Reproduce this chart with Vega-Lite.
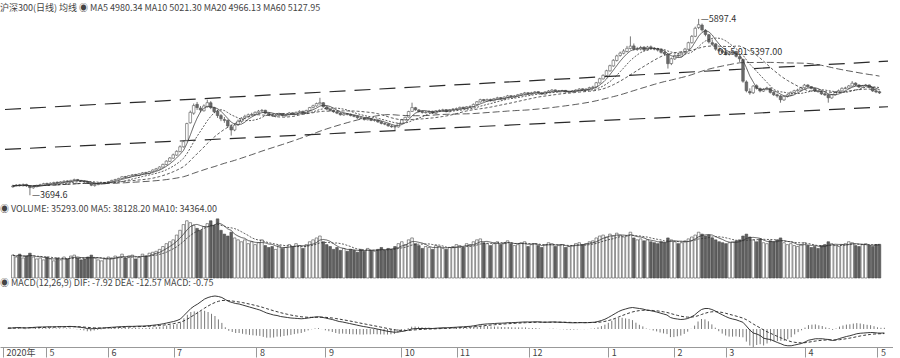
{
"$schema":"https://vega.github.io/schema/vega-lite/v6.json",
"padding":{"top":3,"left":0,"right":0,"bottom":0},
"background":"#ffffff",
"config":{"view":{"stroke":null},"concat":{"spacing":0},"font":"Noto Sans CJK SC",
"title":{"font":"Noto Sans CJK SC","fontSize":9,"fontWeight":"normal","color":"#444","anchor":"start","offset":2},
"axis":{"domainColor":"#999","tickColor":"#999","labelColor":"#444","labelFont":"Noto Sans CJK SC","labelFontSize":9,"gridColor":"#9a9a9a","gridDash":[1,3],"gridWidth":0.8}},
"datasets":{
"chan":[{"line":"upper","d":-2.3,"p":4766},{"line":"upper","d":256.5,"p":5369},{"line":"lower","d":-2.3,"p":4267},{"line":"lower","d":256.5,"p":4800}],
"ann":[{"d":5,"p":3694.6,"label":"—3694.6"},{"d":201,"p":5897.4,"label":"—5897.4"},{"d":206,"p":5484,"label":"01.5.01 5397.00"}],
"k":[
{"d":0,"o":3800,"h":3826,"l":3790,"c":3810,"v":24000,"dif":2,"dea":1.6,"macd":0.8},
{"d":1,"o":3812,"h":3834,"l":3805,"c":3822,"v":22000,"dif":2,"dea":1.7,"macd":0.6},
{"d":2,"o":3826,"h":3836,"l":3806,"c":3815,"v":25000,"dif":2.5,"dea":1.9,"macd":1.2},
{"d":3,"o":3812,"h":3842,"l":3808,"c":3829,"v":21000,"dif":3,"dea":2.1,"macd":1.8},
{"d":4,"o":3830,"h":3838,"l":3800,"c":3812,"v":23000,"dif":2.5,"dea":2.2,"macd":0.6},
{"d":5,"o":3808,"h":3815,"l":3694.6,"c":3790,"v":26000,"dif":2,"dea":2.2,"macd":-0.4},
{"d":6,"o":3788,"h":3815,"l":3776,"c":3804,"v":22000,"dif":2.5,"dea":2.3,"macd":0.4},
{"d":7,"o":3802,"h":3826,"l":3795,"c":3818,"v":20000,"dif":3,"dea":2.4,"macd":1.2},
{"d":8,"o":3820,"h":3838,"l":3812,"c":3826,"v":21000,"dif":3.5,"dea":2.6,"macd":1.8},
{"d":9,"o":3824,"h":3850,"l":3818,"c":3840,"v":19000,"dif":4,"dea":2.9,"macd":2.2},
{"d":10,"o":3842,"h":3852,"l":3825,"c":3833,"v":22000,"dif":4,"dea":3.1,"macd":1.8},
{"d":11,"o":3830,"h":3855,"l":3826,"c":3845,"v":20000,"dif":4.2,"dea":3.3,"macd":1.8},
{"d":12,"o":3846,"h":3864,"l":3838,"c":3853,"v":18000,"dif":4.5,"dea":3.5,"macd":2},
{"d":13,"o":3858,"h":3866,"l":3840,"c":3848,"v":21000,"dif":4.3,"dea":3.7,"macd":1.2},
{"d":14,"o":3846,"h":3870,"l":3840,"c":3862,"v":19000,"dif":4.5,"dea":3.9,"macd":1.2},
{"d":15,"o":3860,"h":3882,"l":3852,"c":3870,"v":22000,"dif":4.8,"dea":4.1,"macd":1.4},
{"d":16,"o":3874,"h":3880,"l":3856,"c":3866,"v":20000,"dif":4.6,"dea":4.2,"macd":0.8},
{"d":17,"o":3862,"h":3888,"l":3858,"c":3880,"v":23000,"dif":4.9,"dea":4.3,"macd":1.2},
{"d":18,"o":3878,"h":3902,"l":3872,"c":3890,"v":24000,"dif":5.2,"dea":4.5,"macd":1.4},
{"d":19,"o":3892,"h":3898,"l":3870,"c":3878,"v":21000,"dif":4.8,"dea":4.6,"macd":0.4},
{"d":20,"o":3880,"h":3886,"l":3860,"c":3870,"v":19000,"dif":4.2,"dea":4.5,"macd":-0.6},
{"d":21,"o":3872,"h":3878,"l":3852,"c":3862,"v":20000,"dif":3.5,"dea":4.3,"macd":-1.6},
{"d":22,"o":3864,"h":3868,"l":3836,"c":3845,"v":22000,"dif":2.5,"dea":3.9,"macd":-2.8},
{"d":23,"o":3846,"h":3850,"l":3808,"c":3820,"v":24000,"dif":1,"dea":3.3,"macd":-4.6},
{"d":24,"o":3816,"h":3836,"l":3802,"c":3829,"v":21000,"dif":0.5,"dea":2.7,"macd":-4.4},
{"d":25,"o":3828,"h":3848,"l":3820,"c":3840,"v":19000,"dif":0.8,"dea":2.3,"macd":-3},
{"d":26,"o":3840,"h":3856,"l":3832,"c":3848,"v":18000,"dif":1.2,"dea":2.1,"macd":-1.8},
{"d":27,"o":3846,"h":3862,"l":3840,"c":3853,"v":20000,"dif":1.6,"dea":2,"macd":-0.8},
{"d":28,"o":3850,"h":3872,"l":3845,"c":3866,"v":22000,"dif":2.2,"dea":2,"macd":0.4},
{"d":29,"o":3864,"h":3888,"l":3858,"c":3880,"v":21000,"dif":2.8,"dea":2.2,"macd":1.2},
{"d":30,"o":3882,"h":3900,"l":3875,"c":3890,"v":23000,"dif":3.4,"dea":2.4,"macd":2},
{"d":31,"o":3888,"h":3912,"l":3882,"c":3905,"v":22000,"dif":3.8,"dea":2.7,"macd":2.2},
{"d":32,"o":3904,"h":3932,"l":3898,"c":3926,"v":25000,"dif":4.5,"dea":3.1,"macd":2.8},
{"d":33,"o":3928,"h":3936,"l":3910,"c":3918,"v":21000,"dif":4.6,"dea":3.4,"macd":2.4},
{"d":34,"o":3916,"h":3946,"l":3910,"c":3940,"v":23000,"dif":5,"dea":3.7,"macd":2.6},
{"d":35,"o":3940,"h":3960,"l":3932,"c":3950,"v":24000,"dif":5.3,"dea":4,"macd":2.6},
{"d":36,"o":3954,"h":3962,"l":3936,"c":3944,"v":20000,"dif":5.2,"dea":4.2,"macd":2},
{"d":37,"o":3942,"h":3970,"l":3938,"c":3962,"v":22000,"dif":5.5,"dea":4.5,"macd":2},
{"d":38,"o":3960,"h":3984,"l":3952,"c":3975,"v":25000,"dif":5.9,"dea":4.8,"macd":2.2},
{"d":39,"o":3978,"h":3988,"l":3958,"c":3968,"v":23000,"dif":5.8,"dea":5,"macd":1.6},
{"d":40,"o":3966,"h":3998,"l":3960,"c":3990,"v":26000,"dif":6.2,"dea":5.2,"macd":2},
{"d":41,"o":3988,"h":4018,"l":3982,"c":4010,"v":27000,"dif":6.8,"dea":5.5,"macd":2.6},
{"d":42,"o":4008,"h":4036,"l":4000,"c":4025,"v":28000,"dif":7.5,"dea":5.9,"macd":3.2},
{"d":43,"o":4022,"h":4056,"l":4018,"c":4048,"v":30000,"dif":8.3,"dea":6.4,"macd":3.8},
{"d":44,"o":4046,"h":4090,"l":4040,"c":4080,"v":33000,"dif":9.2,"dea":7,"macd":4.4},
{"d":45,"o":4078,"h":4130,"l":4070,"c":4121,"v":36000,"dif":10.5,"dea":7.7,"macd":5.6},
{"d":46,"o":4118,"h":4172,"l":4110,"c":4160,"v":38000,"dif":12,"dea":8.6,"macd":6.8},
{"d":47,"o":4158,"h":4215,"l":4150,"c":4200,"v":40000,"dif":13.5,"dea":9.6,"macd":7.8},
{"d":48,"o":4196,"h":4256,"l":4188,"c":4243,"v":45000,"dif":15,"dea":10.7,"macd":8.6},
{"d":49,"o":4240,"h":4318,"l":4232,"c":4300,"v":50000,"dif":17,"dea":12,"macd":10},
{"d":50,"o":4300,"h":4380,"l":4290,"c":4364,"v":56000,"dif":20,"dea":13.6,"macd":12.8},
{"d":51,"o":4380,"h":4600,"l":4372,"c":4590,"v":60000,"dif":27,"dea":16.3,"macd":21.4},
{"d":52,"o":4600,"h":4752,"l":4590,"c":4730,"v":58000,"dif":34,"dea":19.8,"macd":28.4},
{"d":53,"o":4720,"h":4840,"l":4700,"c":4815,"v":55000,"dif":41,"dea":24,"macd":34},
{"d":54,"o":4830,"h":4860,"l":4760,"c":4790,"v":52000,"dif":46,"dea":28.4,"macd":35.2},
{"d":55,"o":4784,"h":4810,"l":4730,"c":4760,"v":50000,"dif":50,"dea":32.7,"macd":34.6},
{"d":56,"o":4750,"h":4830,"l":4740,"c":4810,"v":54000,"dif":55,"dea":37.2,"macd":35.6},
{"d":57,"o":4800,"h":4888,"l":4790,"c":4851,"v":57000,"dif":60,"dea":41.8,"macd":36.4},
{"d":58,"o":4850,"h":4870,"l":4770,"c":4790,"v":60000,"dif":63,"dea":46,"macd":34},
{"d":59,"o":4788,"h":4800,"l":4720,"c":4740,"v":55000,"dif":65,"dea":49.8,"macd":30.4},
{"d":60,"o":4745,"h":4760,"l":4660,"c":4690,"v":62000,"dif":66,"dea":53,"macd":26},
{"d":61,"o":4690,"h":4710,"l":4620,"c":4650,"v":50000,"dif":65,"dea":55.4,"macd":19.2},
{"d":62,"o":4640,"h":4672,"l":4600,"c":4630,"v":46000,"dif":63,"dea":56.9,"macd":12.2},
{"d":63,"o":4630,"h":4640,"l":4540,"c":4560,"v":44000,"dif":59,"dea":57.3,"macd":3.4},
{"d":64,"o":4550,"h":4580,"l":4440,"c":4510,"v":48000,"dif":55,"dea":56.8,"macd":-3.6},
{"d":65,"o":4510,"h":4590,"l":4495,"c":4570,"v":42000,"dif":53,"dea":56,"macd":-6},
{"d":66,"o":4575,"h":4640,"l":4560,"c":4620,"v":40000,"dif":51,"dea":55,"macd":-8},
{"d":67,"o":4615,"h":4670,"l":4600,"c":4656,"v":38000,"dif":50,"dea":54,"macd":-8},
{"d":68,"o":4660,"h":4700,"l":4645,"c":4680,"v":40000,"dif":48,"dea":52.8,"macd":-9.6},
{"d":69,"o":4676,"h":4715,"l":4665,"c":4700,"v":36000,"dif":46,"dea":51.4,"macd":-10.8},
{"d":70,"o":4700,"h":4725,"l":4685,"c":4705,"v":38000,"dif":44,"dea":49.9,"macd":-11.8},
{"d":71,"o":4706,"h":4742,"l":4695,"c":4730,"v":35000,"dif":42,"dea":48.3,"macd":-12.6},
{"d":72,"o":4726,"h":4760,"l":4715,"c":4745,"v":37000,"dif":40,"dea":46.6,"macd":-13.2},
{"d":73,"o":4748,"h":4772,"l":4735,"c":4754,"v":40000,"dif":38,"dea":44.9,"macd":-13.8},
{"d":74,"o":4756,"h":4762,"l":4708,"c":4720,"v":34000,"dif":35,"dea":42.9,"macd":-15.8},
{"d":75,"o":4718,"h":4728,"l":4688,"c":4700,"v":32000,"dif":32,"dea":40.7,"macd":-17.4},
{"d":76,"o":4702,"h":4712,"l":4675,"c":4690,"v":33000,"dif":30,"dea":38.6,"macd":-17.2},
{"d":77,"o":4685,"h":4708,"l":4668,"c":4693,"v":30000,"dif":28,"dea":36.5,"macd":-17},
{"d":78,"o":4692,"h":4726,"l":4684,"c":4715,"v":34000,"dif":27,"dea":34.6,"macd":-15.2},
{"d":79,"o":4716,"h":4722,"l":4680,"c":4690,"v":31000,"dif":25,"dea":32.7,"macd":-15.4},
{"d":80,"o":4688,"h":4712,"l":4676,"c":4700,"v":32000,"dif":24,"dea":31,"macd":-14},
{"d":81,"o":4700,"h":4735,"l":4692,"c":4722,"v":35000,"dif":23,"dea":29.4,"macd":-12.8},
{"d":82,"o":4724,"h":4730,"l":4695,"c":4705,"v":33000,"dif":22,"dea":27.9,"macd":-11.8},
{"d":83,"o":4702,"h":4740,"l":4696,"c":4730,"v":36000,"dif":21.5,"dea":26.6,"macd":-10.2},
{"d":84,"o":4730,"h":4756,"l":4722,"c":4742,"v":34000,"dif":21,"dea":25.5,"macd":-9},
{"d":85,"o":4744,"h":4750,"l":4708,"c":4720,"v":31000,"dif":20.5,"dea":24.5,"macd":-8},
{"d":86,"o":4718,"h":4762,"l":4712,"c":4754,"v":35000,"dif":21,"dea":23.8,"macd":-5.6},
{"d":87,"o":4752,"h":4798,"l":4745,"c":4790,"v":38000,"dif":22,"dea":23.4,"macd":-2.8},
{"d":88,"o":4790,"h":4826,"l":4780,"c":4812,"v":40000,"dif":23,"dea":23.3,"macd":-0.6},
{"d":89,"o":4810,"h":4852,"l":4802,"c":4840,"v":42000,"dif":24,"dea":23.4,"macd":1.2},
{"d":90,"o":4836,"h":4912,"l":4828,"c":4851,"v":44000,"dif":24.5,"dea":23.6,"macd":1.8},
{"d":91,"o":4850,"h":4858,"l":4790,"c":4800,"v":38000,"dif":23.5,"dea":23.6,"macd":-0.2},
{"d":92,"o":4798,"h":4810,"l":4756,"c":4770,"v":35000,"dif":22,"dea":23.3,"macd":-2.6},
{"d":93,"o":4772,"h":4780,"l":4740,"c":4754,"v":33000,"dif":20.5,"dea":22.7,"macd":-4.4},
{"d":94,"o":4756,"h":4765,"l":4725,"c":4738,"v":30000,"dif":19,"dea":22,"macd":-6},
{"d":95,"o":4736,"h":4748,"l":4708,"c":4720,"v":32000,"dif":17,"dea":21,"macd":-8},
{"d":96,"o":4722,"h":4730,"l":4690,"c":4700,"v":29000,"dif":15,"dea":19.8,"macd":-9.6},
{"d":97,"o":4698,"h":4726,"l":4688,"c":4712,"v":31000,"dif":14,"dea":18.6,"macd":-9.2},
{"d":98,"o":4714,"h":4722,"l":4692,"c":4705,"v":28000,"dif":12.5,"dea":17.4,"macd":-9.8},
{"d":99,"o":4706,"h":4716,"l":4680,"c":4690,"v":30000,"dif":11,"dea":16.1,"macd":-10.2},
{"d":100,"o":4692,"h":4700,"l":4668,"c":4680,"v":29000,"dif":9.5,"dea":14.8,"macd":-10.6},
{"d":101,"o":4682,"h":4690,"l":4650,"c":4662,"v":27000,"dif":8,"dea":13.4,"macd":-10.8},
{"d":102,"o":4660,"h":4675,"l":4642,"c":4656,"v":30000,"dif":6.5,"dea":12,"macd":-11},
{"d":103,"o":4658,"h":4662,"l":4628,"c":4640,"v":28000,"dif":5,"dea":10.6,"macd":-11.2},
{"d":104,"o":4638,"h":4664,"l":4630,"c":4652,"v":31000,"dif":4,"dea":9.3,"macd":-10.6},
{"d":105,"o":4654,"h":4660,"l":4620,"c":4630,"v":29000,"dif":2.5,"dea":7.9,"macd":-10.8},
{"d":106,"o":4628,"h":4648,"l":4615,"c":4632,"v":28000,"dif":1.5,"dea":6.6,"macd":-10.2},
{"d":107,"o":4634,"h":4640,"l":4600,"c":4610,"v":30000,"dif":0,"dea":5.3,"macd":-10.6},
{"d":108,"o":4612,"h":4620,"l":4580,"c":4592,"v":32000,"dif":-1.5,"dea":3.9,"macd":-10.8},
{"d":109,"o":4590,"h":4602,"l":4570,"c":4583,"v":29000,"dif":-3,"dea":2.5,"macd":-11},
{"d":110,"o":4584,"h":4590,"l":4550,"c":4562,"v":31000,"dif":-4.5,"dea":1.1,"macd":-11.2},
{"d":111,"o":4560,"h":4572,"l":4538,"c":4550,"v":30000,"dif":-5.5,"dea":-0.2,"macd":-10.6},
{"d":112,"o":4552,"h":4566,"l":4505,"c":4547,"v":33000,"dif":-6.5,"dea":-1.5,"macd":-10},
{"d":113,"o":4548,"h":4598,"l":4540,"c":4590,"v":36000,"dif":-6,"dea":-2.4,"macd":-7.2},
{"d":114,"o":4592,"h":4648,"l":4585,"c":4640,"v":38000,"dif":-5,"dea":-2.9,"macd":-4.2},
{"d":115,"o":4638,"h":4676,"l":4630,"c":4668,"v":35000,"dif":-4,"dea":-3.1,"macd":-1.8},
{"d":116,"o":4670,"h":4750,"l":4665,"c":4740,"v":40000,"dif":-2,"dea":-2.9,"macd":1.8},
{"d":117,"o":4742,"h":4851,"l":4735,"c":4790,"v":42000,"dif":0,"dea":-2.3,"macd":4.6},
{"d":118,"o":4788,"h":4798,"l":4750,"c":4762,"v":36000,"dif":0.8,"dea":-1.7,"macd":5},
{"d":119,"o":4760,"h":4770,"l":4728,"c":4740,"v":34000,"dif":1,"dea":-1.2,"macd":4.4},
{"d":120,"o":4742,"h":4752,"l":4715,"c":4729,"v":31000,"dif":1,"dea":-0.8,"macd":3.6},
{"d":121,"o":4726,"h":4745,"l":4716,"c":4732,"v":33000,"dif":1,"dea":-0.4,"macd":2.8},
{"d":122,"o":4730,"h":4756,"l":4722,"c":4742,"v":32000,"dif":1.2,"dea":-0.1,"macd":2.6},
{"d":123,"o":4744,"h":4750,"l":4710,"c":4720,"v":30000,"dif":1,"dea":0.1,"macd":1.8},
{"d":124,"o":4718,"h":4758,"l":4712,"c":4750,"v":34000,"dif":1.5,"dea":0.4,"macd":2.2},
{"d":125,"o":4748,"h":4768,"l":4738,"c":4754,"v":33000,"dif":2,"dea":0.7,"macd":2.6},
{"d":126,"o":4752,"h":4775,"l":4742,"c":4762,"v":31000,"dif":2.5,"dea":1.1,"macd":2.8},
{"d":127,"o":4764,"h":4770,"l":4730,"c":4740,"v":30000,"dif":2.4,"dea":1.4,"macd":2},
{"d":128,"o":4738,"h":4772,"l":4732,"c":4765,"v":32000,"dif":2.8,"dea":1.7,"macd":2.2},
{"d":129,"o":4766,"h":4784,"l":4755,"c":4770,"v":33000,"dif":3.2,"dea":2,"macd":2.4},
{"d":130,"o":4768,"h":4790,"l":4760,"c":4778,"v":35000,"dif":3.6,"dea":2.3,"macd":2.6},
{"d":131,"o":4776,"h":4802,"l":4768,"c":4792,"v":34000,"dif":4.2,"dea":2.7,"macd":3},
{"d":132,"o":4794,"h":4800,"l":4770,"c":4780,"v":32000,"dif":4.4,"dea":3,"macd":2.8},
{"d":133,"o":4778,"h":4808,"l":4772,"c":4800,"v":36000,"dif":5,"dea":3.4,"macd":3.2},
{"d":134,"o":4800,"h":4818,"l":4788,"c":4802,"v":35000,"dif":5.4,"dea":3.8,"macd":3.2},
{"d":135,"o":4800,"h":4840,"l":4795,"c":4830,"v":38000,"dif":6.4,"dea":4.3,"macd":4.2},
{"d":136,"o":4828,"h":4870,"l":4822,"c":4862,"v":40000,"dif":7.6,"dea":5,"macd":5.2},
{"d":137,"o":4860,"h":4900,"l":4852,"c":4888,"v":41000,"dif":9,"dea":5.8,"macd":6.4},
{"d":138,"o":4890,"h":4898,"l":4862,"c":4875,"v":37000,"dif":9.6,"dea":6.6,"macd":6},
{"d":139,"o":4872,"h":4902,"l":4866,"c":4890,"v":36000,"dif":10.2,"dea":7.3,"macd":5.8},
{"d":140,"o":4892,"h":4900,"l":4865,"c":4876,"v":34000,"dif":10.4,"dea":7.9,"macd":5},
{"d":141,"o":4874,"h":4910,"l":4868,"c":4900,"v":36000,"dif":11,"dea":8.5,"macd":5},
{"d":142,"o":4900,"h":4925,"l":4890,"c":4912,"v":38000,"dif":11.5,"dea":9.1,"macd":4.8},
{"d":143,"o":4914,"h":4922,"l":4888,"c":4900,"v":35000,"dif":11.6,"dea":9.6,"macd":4},
{"d":144,"o":4898,"h":4930,"l":4892,"c":4920,"v":37000,"dif":12,"dea":10.1,"macd":3.8},
{"d":145,"o":4918,"h":4948,"l":4910,"c":4936,"v":39000,"dif":12.6,"dea":10.6,"macd":4},
{"d":146,"o":4938,"h":4945,"l":4915,"c":4925,"v":36000,"dif":12.7,"dea":11,"macd":3.4},
{"d":147,"o":4922,"h":4946,"l":4914,"c":4936,"v":34000,"dif":13,"dea":11.4,"macd":3.2},
{"d":148,"o":4934,"h":4960,"l":4928,"c":4950,"v":35000,"dif":13.4,"dea":11.8,"macd":3.2},
{"d":149,"o":4948,"h":4972,"l":4940,"c":4962,"v":37000,"dif":13.8,"dea":12.2,"macd":3.2},
{"d":150,"o":4960,"h":4985,"l":4952,"c":4973,"v":38000,"dif":14.2,"dea":12.6,"macd":3.2},
{"d":151,"o":4975,"h":4982,"l":4948,"c":4960,"v":33000,"dif":14,"dea":12.9,"macd":2.2},
{"d":152,"o":4958,"h":4986,"l":4950,"c":4975,"v":35000,"dif":14.2,"dea":13.2,"macd":2},
{"d":153,"o":4974,"h":4996,"l":4965,"c":4985,"v":36000,"dif":14.4,"dea":13.4,"macd":2},
{"d":154,"o":4988,"h":4994,"l":4962,"c":4973,"v":34000,"dif":14.2,"dea":13.6,"macd":1.2},
{"d":155,"o":4972,"h":4980,"l":4948,"c":4960,"v":32000,"dif":13.6,"dea":13.6,"macd":0},
{"d":156,"o":4958,"h":4992,"l":4952,"c":4985,"v":35000,"dif":13.6,"dea":13.6,"macd":0},
{"d":157,"o":4984,"h":5008,"l":4975,"c":4997,"v":37000,"dif":13.8,"dea":13.6,"macd":0.4},
{"d":158,"o":4996,"h":5020,"l":4988,"c":5009,"v":36000,"dif":14.1,"dea":13.7,"macd":0.8},
{"d":159,"o":5010,"h":5016,"l":4985,"c":4995,"v":33000,"dif":13.8,"dea":13.7,"macd":0.2},
{"d":160,"o":4992,"h":5008,"l":4980,"c":4997,"v":34000,"dif":13.5,"dea":13.7,"macd":-0.4},
{"d":161,"o":4996,"h":5012,"l":4986,"c":5002,"v":35000,"dif":13.3,"dea":13.6,"macd":-0.6},
{"d":162,"o":5004,"h":5010,"l":4975,"c":4985,"v":32000,"dif":12.8,"dea":13.4,"macd":-1.2},
{"d":163,"o":4982,"h":4998,"l":4970,"c":4988,"v":33000,"dif":12.5,"dea":13.2,"macd":-1.4},
{"d":164,"o":4986,"h":5006,"l":4976,"c":4997,"v":34000,"dif":12.4,"dea":13,"macd":-1.2},
{"d":165,"o":4996,"h":5018,"l":4988,"c":5009,"v":36000,"dif":12.5,"dea":12.9,"macd":-0.8},
{"d":166,"o":5008,"h":5032,"l":5000,"c":5021,"v":37000,"dif":12.8,"dea":12.9,"macd":-0.2},
{"d":167,"o":5024,"h":5030,"l":5000,"c":5010,"v":35000,"dif":12.6,"dea":12.8,"macd":-0.4},
{"d":168,"o":5008,"h":5030,"l":5000,"c":5021,"v":36000,"dif":12.7,"dea":12.8,"macd":-0.2},
{"d":169,"o":5020,"h":5050,"l":5012,"c":5040,"v":38000,"dif":13.2,"dea":12.9,"macd":0.6},
{"d":170,"o":5040,"h":5062,"l":5030,"c":5046,"v":39000,"dif":13.6,"dea":13,"macd":1.2},
{"d":171,"o":5048,"h":5110,"l":5040,"c":5100,"v":42000,"dif":15,"dea":13.4,"macd":3.2},
{"d":172,"o":5098,"h":5162,"l":5090,"c":5150,"v":44000,"dif":17,"dea":14.1,"macd":5.8},
{"d":173,"o":5148,"h":5205,"l":5140,"c":5192,"v":45000,"dif":19.5,"dea":15.2,"macd":8.6},
{"d":174,"o":5190,"h":5262,"l":5182,"c":5250,"v":43000,"dif":23,"dea":16.8,"macd":12.4},
{"d":175,"o":5248,"h":5325,"l":5240,"c":5313,"v":46000,"dif":27,"dea":18.8,"macd":16.4},
{"d":176,"o":5310,"h":5395,"l":5300,"c":5380,"v":44000,"dif":31,"dea":21.2,"macd":19.6},
{"d":177,"o":5378,"h":5450,"l":5365,"c":5435,"v":47000,"dif":35,"dea":24,"macd":22},
{"d":178,"o":5440,"h":5488,"l":5425,"c":5470,"v":45000,"dif":38,"dea":26.8,"macd":22.4},
{"d":179,"o":5468,"h":5520,"l":5455,"c":5496,"v":43000,"dif":40,"dea":29.4,"macd":21.2},
{"d":180,"o":5490,"h":5560,"l":5480,"c":5530,"v":44000,"dif":42,"dea":31.9,"macd":20.2},
{"d":181,"o":5528,"h":5679,"l":5515,"c":5557,"v":48000,"dif":43,"dea":34.1,"macd":17.8},
{"d":182,"o":5560,"h":5590,"l":5500,"c":5520,"v":42000,"dif":42,"dea":35.7,"macd":12.6},
{"d":183,"o":5516,"h":5548,"l":5498,"c":5522,"v":40000,"dif":41,"dea":36.8,"macd":8.4},
{"d":184,"o":5520,"h":5560,"l":5505,"c":5540,"v":41000,"dif":40,"dea":37.4,"macd":5.2},
{"d":185,"o":5545,"h":5555,"l":5490,"c":5510,"v":39000,"dif":38,"dea":37.5,"macd":1},
{"d":186,"o":5508,"h":5560,"l":5500,"c":5545,"v":40000,"dif":37,"dea":37.4,"macd":-0.8},
{"d":187,"o":5548,"h":5565,"l":5515,"c":5530,"v":38000,"dif":35.5,"dea":37,"macd":-3},
{"d":188,"o":5532,"h":5545,"l":5505,"c":5520,"v":37000,"dif":34,"dea":36.4,"macd":-4.8},
{"d":189,"o":5522,"h":5535,"l":5490,"c":5508,"v":36000,"dif":32,"dea":35.5,"macd":-7},
{"d":190,"o":5510,"h":5520,"l":5465,"c":5480,"v":38000,"dif":30,"dea":34.4,"macd":-8.8},
{"d":191,"o":5482,"h":5495,"l":5440,"c":5460,"v":37000,"dif":28,"dea":33.1,"macd":-10.2},
{"d":192,"o":5455,"h":5465,"l":5277,"c":5338,"v":42000,"dif":23,"dea":31.1,"macd":-16.2},
{"d":193,"o":5340,"h":5415,"l":5320,"c":5400,"v":40000,"dif":21,"dea":29.1,"macd":-16.2},
{"d":194,"o":5398,"h":5455,"l":5385,"c":5440,"v":38000,"dif":20,"dea":27.3,"macd":-14.6},
{"d":195,"o":5444,"h":5462,"l":5418,"c":5435,"v":36000,"dif":19,"dea":25.6,"macd":-13.2},
{"d":196,"o":5432,"h":5492,"l":5428,"c":5480,"v":37000,"dif":19.5,"dea":24.4,"macd":-9.8},
{"d":197,"o":5478,"h":5535,"l":5470,"c":5520,"v":39000,"dif":21,"dea":23.7,"macd":-5.4},
{"d":198,"o":5518,"h":5612,"l":5510,"c":5600,"v":41000,"dif":24,"dea":23.8,"macd":0.4},
{"d":199,"o":5600,"h":5695,"l":5590,"c":5679,"v":43000,"dif":28,"dea":24.6,"macd":6.8},
{"d":200,"o":5680,"h":5800,"l":5670,"c":5780,"v":45000,"dif":34,"dea":26.5,"macd":15},
{"d":201,"o":5790,"h":5897.4,"l":5770,"c":5825,"v":48000,"dif":39,"dea":29,"macd":20},
{"d":202,"o":5820,"h":5840,"l":5740,"c":5760,"v":46000,"dif":41,"dea":31.4,"macd":19.2},
{"d":203,"o":5755,"h":5770,"l":5680,"c":5703,"v":44000,"dif":41,"dea":33.3,"macd":15.4},
{"d":204,"o":5700,"h":5710,"l":5590,"c":5610,"v":45000,"dif":39,"dea":34.4,"macd":9.2},
{"d":205,"o":5600,"h":5640,"l":5560,"c":5580,"v":42000,"dif":36,"dea":34.7,"macd":2.6},
{"d":206,"o":5585,"h":5595,"l":5500,"c":5520,"v":40000,"dif":32,"dea":34.2,"macd":-4.4},
{"d":207,"o":5515,"h":5540,"l":5480,"c":5500,"v":38000,"dif":28.5,"dea":33.1,"macd":-9.2},
{"d":208,"o":5498,"h":5520,"l":5460,"c":5480,"v":37000,"dif":25,"dea":31.5,"macd":-13},
{"d":209,"o":5485,"h":5500,"l":5440,"c":5460,"v":36000,"dif":22,"dea":29.6,"macd":-15.2},
{"d":210,"o":5455,"h":5495,"l":5440,"c":5470,"v":37000,"dif":20,"dea":27.7,"macd":-15.4},
{"d":211,"o":5468,"h":5505,"l":5455,"c":5484,"v":38000,"dif":18.5,"dea":25.9,"macd":-14.8},
{"d":212,"o":5490,"h":5500,"l":5415,"c":5430,"v":39000,"dif":16,"dea":23.9,"macd":-15.8},
{"d":213,"o":5425,"h":5440,"l":5360,"c":5399,"v":40000,"dif":13.5,"dea":21.8,"macd":-16.6},
{"d":214,"o":5390,"h":5400,"l":5100,"c":5119,"v":44000,"dif":6,"dea":18.6,"macd":-25.2},
{"d":215,"o":5110,"h":5130,"l":4980,"c":5000,"v":46000,"dif":-2,"dea":14.5,"macd":-33},
{"d":216,"o":4990,"h":5030,"l":4950,"c":4973,"v":43000,"dif":-8,"dea":10,"macd":-36},
{"d":217,"o":4975,"h":5070,"l":4960,"c":5058,"v":40000,"dif":-10,"dea":6,"macd":-32},
{"d":218,"o":5062,"h":5080,"l":5015,"c":5030,"v":38000,"dif":-13,"dea":2.2,"macd":-30.4},
{"d":219,"o":5028,"h":5040,"l":4980,"c":4997,"v":41000,"dif":-18.4,"dea":-1.9,"macd":-33},
{"d":220,"o":4995,"h":5032,"l":4985,"c":5020,"v":37000,"dif":-20,"dea":-5.5,"macd":-29},
{"d":221,"o":5018,"h":5050,"l":5005,"c":5034,"v":36000,"dif":-21,"dea":-8.6,"macd":-24.8},
{"d":222,"o":5030,"h":5040,"l":4965,"c":4980,"v":39000,"dif":-24,"dea":-11.7,"macd":-24.6},
{"d":223,"o":4978,"h":4990,"l":4935,"c":4950,"v":38000,"dif":-27,"dea":-14.8,"macd":-24.4},
{"d":224,"o":4950,"h":4965,"l":4915,"c":4936,"v":40000,"dif":-29.5,"dea":-17.7,"macd":-23.6},
{"d":225,"o":4935,"h":4945,"l":4851,"c":4888,"v":42000,"dif":-32.5,"dea":-20.7,"macd":-23.6},
{"d":226,"o":4885,"h":4940,"l":4875,"c":4930,"v":37000,"dif":-33.5,"dea":-23.3,"macd":-20.4},
{"d":227,"o":4928,"h":4960,"l":4915,"c":4948,"v":35000,"dif":-33.5,"dea":-25.3,"macd":-16.4},
{"d":228,"o":4945,"h":4990,"l":4935,"c":4980,"v":36000,"dif":-32,"dea":-26.6,"macd":-10.8},
{"d":229,"o":4978,"h":5012,"l":4965,"c":5000,"v":34000,"dif":-30.5,"dea":-27.4,"macd":-6.2},
{"d":230,"o":5000,"h":5025,"l":4990,"c":5009,"v":33000,"dif":-29,"dea":-27.7,"macd":-2.6},
{"d":231,"o":5008,"h":5050,"l":4998,"c":5040,"v":35000,"dif":-26,"dea":-27.4,"macd":2.8},
{"d":232,"o":5038,"h":5085,"l":5030,"c":5070,"v":37000,"dif":-22.5,"dea":-26.4,"macd":7.8},
{"d":233,"o":5072,"h":5080,"l":5040,"c":5050,"v":34000,"dif":-21,"dea":-25.3,"macd":8.6},
{"d":234,"o":5052,"h":5058,"l":5018,"c":5030,"v":32000,"dif":-19.5,"dea":-24.1,"macd":9.2},
{"d":235,"o":5030,"h":5035,"l":4985,"c":4997,"v":33000,"dif":-19.5,"dea":-23.2,"macd":7.4},
{"d":236,"o":4998,"h":5010,"l":4975,"c":4990,"v":31000,"dif":-19.5,"dea":-22.5,"macd":6},
{"d":237,"o":4990,"h":4998,"l":4948,"c":4960,"v":34000,"dif":-20.5,"dea":-22.1,"macd":3.2},
{"d":238,"o":4962,"h":4972,"l":4935,"c":4948,"v":35000,"dif":-21,"dea":-21.9,"macd":1.8},
{"d":239,"o":4950,"h":4958,"l":4851,"c":4912,"v":38000,"dif":-23,"dea":-22.1,"macd":-1.8},
{"d":240,"o":4910,"h":4960,"l":4900,"c":4950,"v":36000,"dif":-21.5,"dea":-22,"macd":1},
{"d":241,"o":4948,"h":4995,"l":4940,"c":4985,"v":34000,"dif":-19,"dea":-21.4,"macd":4.8},
{"d":242,"o":4985,"h":5015,"l":4975,"c":5000,"v":33000,"dif":-17,"dea":-20.5,"macd":7},
{"d":243,"o":4998,"h":5042,"l":4990,"c":5030,"v":35000,"dif":-15,"dea":-19.4,"macd":8.8},
{"d":244,"o":5030,"h":5050,"l":5018,"c":5034,"v":36000,"dif":-13.5,"dea":-18.2,"macd":9.4},
{"d":245,"o":5032,"h":5072,"l":5025,"c":5060,"v":38000,"dif":-11.5,"dea":-16.9,"macd":10.8},
{"d":246,"o":5058,"h":5120,"l":5050,"c":5094,"v":37000,"dif":-9.5,"dea":-15.4,"macd":11.8},
{"d":247,"o":5096,"h":5105,"l":5060,"c":5070,"v":34000,"dif":-8.5,"dea":-14,"macd":11},
{"d":248,"o":5072,"h":5080,"l":5035,"c":5046,"v":33000,"dif":-8,"dea":-12.8,"macd":9.6},
{"d":249,"o":5044,"h":5072,"l":5036,"c":5060,"v":35000,"dif":-7.5,"dea":-11.7,"macd":8.4},
{"d":250,"o":5058,"h":5085,"l":5050,"c":5070,"v":36000,"dif":-7,"dea":-10.8,"macd":7.6},
{"d":251,"o":5072,"h":5078,"l":5030,"c":5040,"v":34000,"dif":-7.3,"dea":-10.1,"macd":5.6},
{"d":252,"o":5042,"h":5050,"l":4985,"c":4997,"v":33000,"dif":-8,"dea":-9.7,"macd":3.4},
{"d":253,"o":4998,"h":5010,"l":4970,"c":4985,"v":35000,"dif":-8.2,"dea":-9.4,"macd":2.4},
{"d":254,"o":4988,"h":4996,"l":4960,"c":4973,"v":35293,"dif":-7.92,"dea":-9.1,"macd":2.4}
]},
"vconcat":[
{"width":893,"height":190,
"title":{"text":"沪深300(日线)  均线 ◉ MA5 4980.34  MA10 5021.30  MA20 4966.13  MA60 5127.95"},
"data":{"name":"k"},
"encoding":{"x":{"field":"d","type":"quantitative","scale":{"domain":[-2.3,256.5],"nice":false,"zero":false},"axis":null}},
"layer":[
{"data":{"name":"chan"},"mark":{"type":"line","strokeDash":[16,9],"strokeWidth":1.2,"color":"#2a2a2a","clip":true},
 "encoding":{"y":{"field":"p","type":"quantitative","scale":{"domain":[3573,5946],"nice":false,"zero":false},"axis":null},"detail":{"field":"line"}}},
{"mark":{"type":"rule","color":"#555","strokeWidth":0.8,"clip":true},
 "encoding":{"y":{"field":"l","type":"quantitative","scale":{"domain":[3573,5946],"nice":false,"zero":false},
   "axis":{"orient":"right","labels":false,"ticks":true,"tickSize":3,"domain":false,"grid":true,"values":[4000,4450,4970,5460],"title":null}},
  "y2":{"field":"h"}}},
{"mark":{"type":"bar","size":2.6,"stroke":"#555","strokeWidth":0.6,"clip":true},
 "encoding":{"y":{"field":"o","type":"quantitative","scale":{"domain":[3573,5946],"nice":false,"zero":false},"axis":null},"y2":{"field":"c"},
  "fill":{"condition":{"test":"datum.c >= datum.o","value":"#ffffff"},"value":"#6a6a6a"}}},
{"transform":[
  {"window":[{"op":"mean","field":"c","as":"ma5"}],"frame":[-4,0],"sort":[{"field":"d"}]},
  {"window":[{"op":"mean","field":"c","as":"ma10"}],"frame":[-9,0],"sort":[{"field":"d"}]},
  {"window":[{"op":"mean","field":"c","as":"ma20"}],"frame":[-19,0],"sort":[{"field":"d"}]},
  {"window":[{"op":"mean","field":"c","as":"ma60"}],"frame":[-59,0],"sort":[{"field":"d"}]},
  {"fold":["ma5","ma10","ma20","ma60"],"as":["ma","val"]}],
 "mark":{"type":"line","strokeWidth":0.8,"color":"#333","clip":true},
 "encoding":{"y":{"field":"val","type":"quantitative","scale":{"domain":[3573,5946],"nice":false,"zero":false},"axis":null},
  "strokeDash":{"field":"ma","type":"nominal","scale":{"domain":["ma5","ma10","ma20","ma60"],"range":[[1,0],[2,1.5],[3,2],[7,3]]},"legend":null}}},
{"data":{"name":"ann"},"mark":{"type":"text","align":"left","baseline":"middle","dx":2,"fontSize":9,"color":"#333"},
 "encoding":{"y":{"field":"p","type":"quantitative","scale":{"domain":[3573,5946],"nice":false,"zero":false},"axis":null},"text":{"field":"label"}}}
]},
{"width":893,"height":62,
"title":{"text":"◉ VOLUME: 35293.00  MA5: 38128.20  MA10: 34364.00"},
"data":{"name":"k"},
"encoding":{"x":{"field":"d","type":"quantitative","scale":{"domain":[-2.3,256.5],"nice":false,"zero":false},"axis":null}},
"layer":[
{"mark":{"type":"bar","size":2.6,"stroke":"#4a4a4a","strokeWidth":0.6},
 "encoding":{"y":{"field":"v","type":"quantitative","scale":{"domain":[0,65000],"nice":false},
   "axis":{"orient":"right","labels":false,"ticks":true,"tickSize":3,"domain":false,"grid":true,"values":[24000,40000],"title":null}},
  "fill":{"condition":{"test":"datum.c >= datum.o","value":"#ffffff"},"value":"#5f5f5f"}}},
{"transform":[
  {"window":[{"op":"mean","field":"v","as":"vma5"}],"frame":[-4,0],"sort":[{"field":"d"}]},
  {"window":[{"op":"mean","field":"v","as":"vma10"}],"frame":[-9,0],"sort":[{"field":"d"}]},
  {"fold":["vma5","vma10"],"as":["ma","val"]}],
 "mark":{"type":"line","strokeWidth":0.8,"color":"#333"},
 "encoding":{"y":{"field":"val","type":"quantitative","scale":{"domain":[0,65000],"nice":false},"axis":null},
  "strokeDash":{"field":"ma","type":"nominal","scale":{"domain":["vma5","vma10"],"range":[[2,1.5],[1,2]]},"legend":null}}}
]},
{"width":893,"height":57,
"title":{"text":"◉ MACD(12,26,9) DIF: -7.92 DEA: -12.57 MACD: -0.75"},
"data":{"name":"k"},
"encoding":{"x":{"field":"d","type":"quantitative","scale":{"domain":[-2.3,256.5],"nice":false,"zero":false},
  "axis":{"values":[-1.4,11,29,48,72,92,114,130,151,174,193,208,231,252],"labelExpr":"datum.value < 0 ? '2020年' : datum.value < 20 ? '5' : datum.value < 40 ? '6' : datum.value < 60 ? '7' : datum.value < 80 ? '8' : datum.value < 100 ? '9' : datum.value < 120 ? '10' : datum.value < 140 ? '11' : datum.value < 160 ? '12' : datum.value < 180 ? '1' : datum.value < 200 ? '2' : datum.value < 220 ? '3' : datum.value < 240 ? '4' : '5'",
   "labelAlign":"left","labelOffset":3,"tickSize":10,"labelPadding":-9,"labelBaseline":"top","grid":false,"title":null,"domainColor":"#999","labelFlush":false,"labelOverlap":false}}},
"layer":[
{"mark":{"type":"rule","color":"#7a7a7a","strokeWidth":1},
 "encoding":{"y":{"field":"macd","type":"quantitative","scale":{"domain":[-36,78],"nice":false,"zero":false},
   "axis":{"orient":"right","labels":false,"ticks":true,"tickSize":3,"domain":true,"grid":true,"values":[0,34],"title":null}},
  "y2":{"datum":0}}},
{"mark":{"type":"line","strokeWidth":0.9,"color":"#222"},
 "encoding":{"y":{"field":"dif","type":"quantitative","scale":{"domain":[-36,78],"nice":false,"zero":false},"axis":null}}},
{"mark":{"type":"line","strokeWidth":0.9,"color":"#222","strokeDash":[3,2]},
 "encoding":{"y":{"field":"dea","type":"quantitative","scale":{"domain":[-36,78],"nice":false,"zero":false},"axis":null}}}
]}
]
}
